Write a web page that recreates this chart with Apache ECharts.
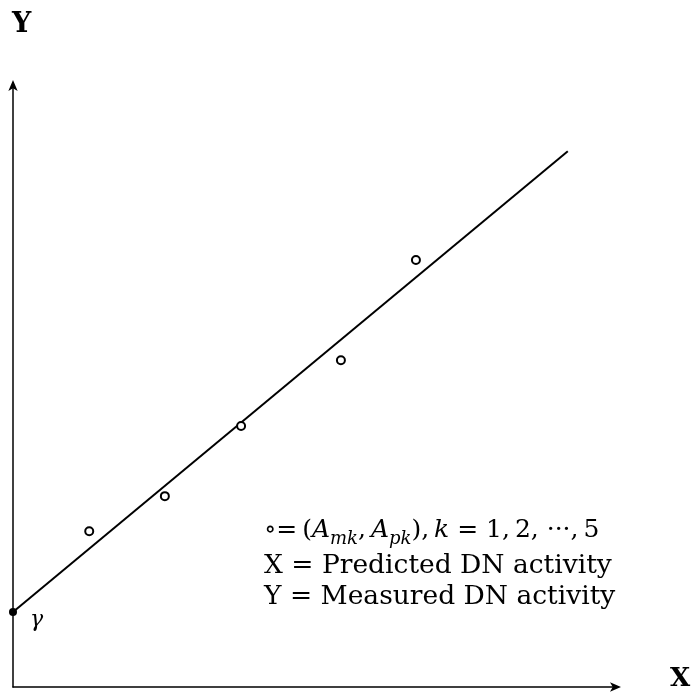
<!DOCTYPE html>
<html>
<head>
<meta charset="utf-8">
<script src="https://cdn.jsdelivr.net/npm/echarts@6/dist/echarts.min.js"></script>
<style>
  html, body { margin: 0; padding: 0; background: #fff; }
  #chart { width: 695px; height: 693px; }
</style>
</head>
<body>
<div id="chart"></div>
<script>
// Measured vs predicted pairs (A_mk, A_pk), k = 1..5
const predicted = [1.26, 2.51, 3.77, 5.42, 6.66];
const measured = [2.58, 3.16, 4.32, 5.41, 7.07];
// Fitted line end points
const fitX = [0, 9.17];
const fitY = [1.24, 8.87];
// Intercept gamma on the Y axis
const gammaPoint = [0, 1.24];

const axisMax = 10;
const SERIF = '"DejaVu Serif", "Liberation Serif", serif';
const THIN = '\u2009';

const chart = echarts.init(document.getElementById('chart'), null, { renderer: 'canvas' });

const axisCommon = {
  type: 'value',
  min: 0,
  max: axisMax,
  axisTick: { show: false },
  axisLabel: { show: false },
  splitLine: { show: false },
  axisLine: {
    show: true,
    onZero: false,
    symbol: ['none', 'arrow'],
    symbolSize: [7, 11],
    symbolOffset: [0, 3],
    lineStyle: { color: '#000', width: 1.5 }
  }
};

chart.setOption({
  animation: false,
  backgroundColor: '#fff',
  grid: { left: 13, right: 77, top: 83, bottom: 6 },
  xAxis: axisCommon,
  yAxis: axisCommon,
  series: [
    {
      type: 'line',
      data: fitX.map((x, i) => [x, fitY[i]]),
      showSymbol: false,
      lineStyle: { color: '#000', width: 2 },
      z: 2
    },
    {
      type: 'scatter',
      data: predicted.map((x, i) => [x, measured[i]]),
      symbol: 'circle',
      symbolSize: 8,
      itemStyle: { color: '#fff', borderColor: '#000', borderWidth: 2, opacity: 1 },
      z: 3
    },
    {
      type: 'scatter',
      data: [gammaPoint],
      symbol: 'circle',
      symbolSize: 8,
      itemStyle: { color: '#000', opacity: 1 },
      label: {
        show: true,
        formatter: 'γ',
        position: 'right',
        offset: [8, 8],
        fontFamily: SERIF,
        fontStyle: 'italic',
        fontSize: 22,
        color: '#000'
      },
      z: 4
    }
  ],
  graphic: [
    {
      type: 'text', left: 12, top: 11,
      style: { text: 'Y', font: 'bold 27px ' + SERIF, fill: '#000' }
    },
    {
      type: 'text', left: 670, top: 666,
      style: { text: 'X', font: 'bold 26px ' + SERIF, fill: '#000' }
    },
    {
      type: 'text', left: 264, top: 518,
      style: {
        text: '{n|∘=' + THIN + '(}{a|A}{s|mk}{n|,' + THIN + '}{a|A}{s|pk}{n|),' + THIN + '}{a|k}{n| = 1,' + THIN + '2, ···,' + THIN + '5}',
        fill: '#000',
        rich: {
          n: { fontFamily: SERIF, fontSize: 25, lineHeight: 28, verticalAlign: 'top' },
          a: { fontFamily: SERIF, fontSize: 25, fontStyle: 'italic', lineHeight: 28, verticalAlign: 'top' },
          s: { fontFamily: SERIF, fontSize: 18, fontStyle: 'italic', lineHeight: 18, padding: [12, 0, 0, 0], verticalAlign: 'top' }
        }
      }
    },
    {
      type: 'text', left: 264, top: 553,
      style: { text: 'X = Predicted DN activity', font: '26.5px ' + SERIF, fill: '#000' }
    },
    {
      type: 'text', left: 264, top: 584,
      style: { text: 'Y = Measured DN activity', font: '26.5px ' + SERIF, fill: '#000' }
    }
  ]
});
</script>
</body>
</html>
